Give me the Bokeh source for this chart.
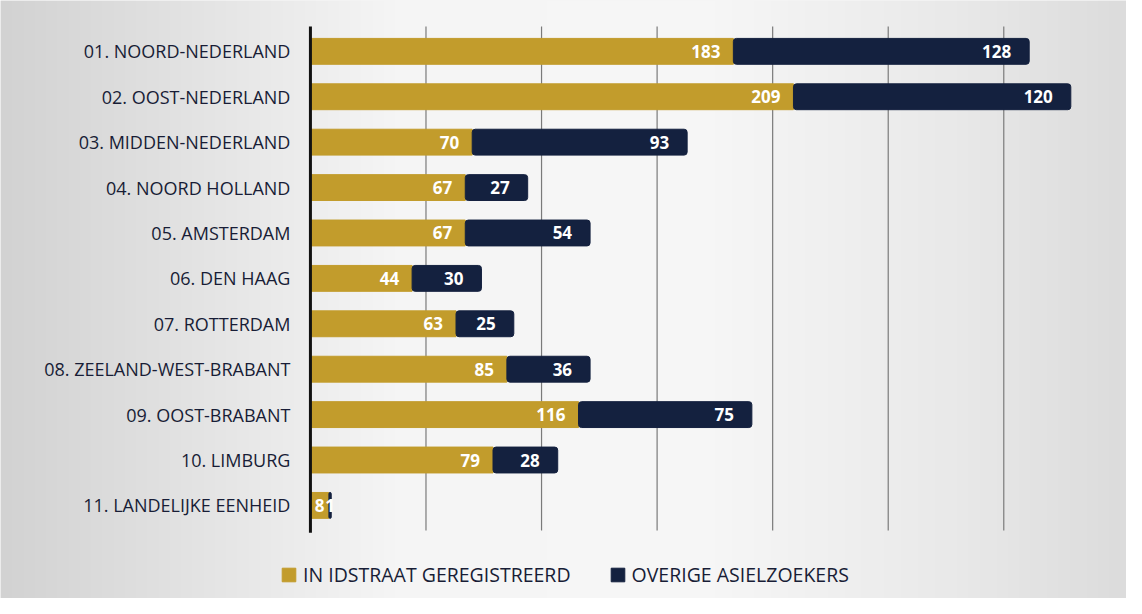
import numpy as np
from bokeh.plotting import figure
from bokeh.models import ColumnDataSource, Range1d, Legend, LegendItem
from bokeh.core.properties import value
from bokeh.embed import file_html
from bokeh.resources import INLINE

regions = ["01. NOORD-NEDERLAND", "02. OOST-NEDERLAND", "03. MIDDEN-NEDERLAND",
           "04. NOORD HOLLAND", "05. AMSTERDAM", "06. DEN HAAG", "07. ROTTERDAM",
           "08. ZEELAND-WEST-BRABANT", "09. OOST-BRABANT", "10. LIMBURG",
           "11. LANDELIJKE EENHEID"]
registered = [183, 209, 70, 67, 67, 44, 63, 85, 116, 79, 8]
other = [128, 120, 93, 27, 54, 30, 25, 36, 75, 28, 1]
series_names = ["IN IDSTRAAT GEREGISTREERD", "OVERIGE ASIELZOEKERS"]
grid_ticks = [50, 100, 150, 200, 250, 300]

GOLD = "#c29c2c"
NAVY = "#14213f"
TEXT = "#181d36"
FONT = "Open Sans"

n = len(regions)
ypos = [n - i for i in range(n)]          # first region on top
total = [a + b for a, b in zip(registered, other)]

# data-label placement: inside end, or centred when the segment is too short
def lbl(left, right, off):
    if right - left < 12:
        return (left + right) / 2, "center", 0
    return right, "right", off

reg_p = [lbl(0, r, -13) for r in registered]
oth_p = [lbl(r, t, -18) for r, t in zip(registered, total)]

src = ColumnDataSource(dict(region=regions, y=ypos, reg=registered, oth=other, tot=total,
                            reg_lbl=[str(v) for v in registered],
                            oth_lbl=[str(v) for v in other],
                            reg_x=[a[0] for a in reg_p], reg_al=[a[1] for a in reg_p],
                            reg_off=[a[2] for a in reg_p],
                            oth_x=[a[0] for a in oth_p], oth_al=[a[1] for a in oth_p],
                            oth_off=[a[2] for a in oth_p]))

X0, X1 = -134.1, 353.1
Y0, Y1 = -1.05, 12.12
p = figure(width=1126, height=598, output_backend="svg", toolbar_location=None,
           x_range=Range1d(X0, X1), y_range=Range1d(Y0, Y1),
           x_axis_type=None, y_axis_type=None,
           min_border_left=0, min_border_right=0, min_border_top=0, min_border_bottom=0)
p.outline_line_color = None
p.xgrid.visible = False
p.ygrid.visible = False
p.background_fill_color = "#ececec"
p.border_fill_color = "#ececec"

# soft photographic background (styling only)
cols = 200
fx = np.linspace(0, 1, cols)
shade = np.interp(fx, [0, 0.12, 0.35, 0.62, 0.85, 1.0], [210, 222, 245, 247, 233, 220]).astype(np.uint32)
img = np.empty((1, cols), dtype=np.uint32)
img[0, :] = (255 << 24) | (shade << 16) | (shade << 8) | shade
p.image_rgba(image=[img], x=X0, y=Y0, dw=X1 - X0, dh=Y1 - Y0)

# grid lines and axis line
p.segment(x0=grid_ticks, x1=grid_ticks, y0=0.45, y1=11.55, line_color="#7a7a7a", line_width=1.2)

r1 = p.hbar(y="y", left=0, right="reg", height=0.57, color=GOLD, source=src)
r2 = p.hbar(y="y", left="reg", right="tot", height=0.57, color=NAVY, source=src,
            border_radius=3)
p.segment(x0=[0], x1=[0], y0=0.4, y1=11.55, line_color="#111111", line_width=3)

p.text(x=0, y="y", text="region", source=src, x_offset=-20, text_align="right",
       text_baseline="middle", text_color=TEXT, text_font=value(FONT), text_font_size="18px")
p.text(x="reg_x", y="y", text="reg_lbl", source=src, x_offset="reg_off", text_align="reg_al",
       text_baseline="middle", text_color="white", text_font=value(FONT),
       text_font_size="17px", text_font_style="bold")
p.text(x="oth_x", y="y", text="oth_lbl", source=src, x_offset="oth_off", text_align="oth_al",
       text_baseline="middle", text_color="white", text_font=value(FONT),
       text_font_size="17px", text_font_style="bold")

legend = Legend(items=[LegendItem(label=series_names[0], renderers=[r1]),
                       LegendItem(label=series_names[1], renderers=[r2])],
                orientation="horizontal", location=(280, 10),
                background_fill_alpha=0, border_line_color=None,
                label_text_font=FONT, label_text_font_size="19.5px", label_text_color=TEXT,
                glyph_width=17, glyph_height=17, spacing=38, label_standoff=6,
                padding=5, margin=0)
p.add_layout(legend, "center")

open("out.html", "w").write(file_html(p, INLINE))
